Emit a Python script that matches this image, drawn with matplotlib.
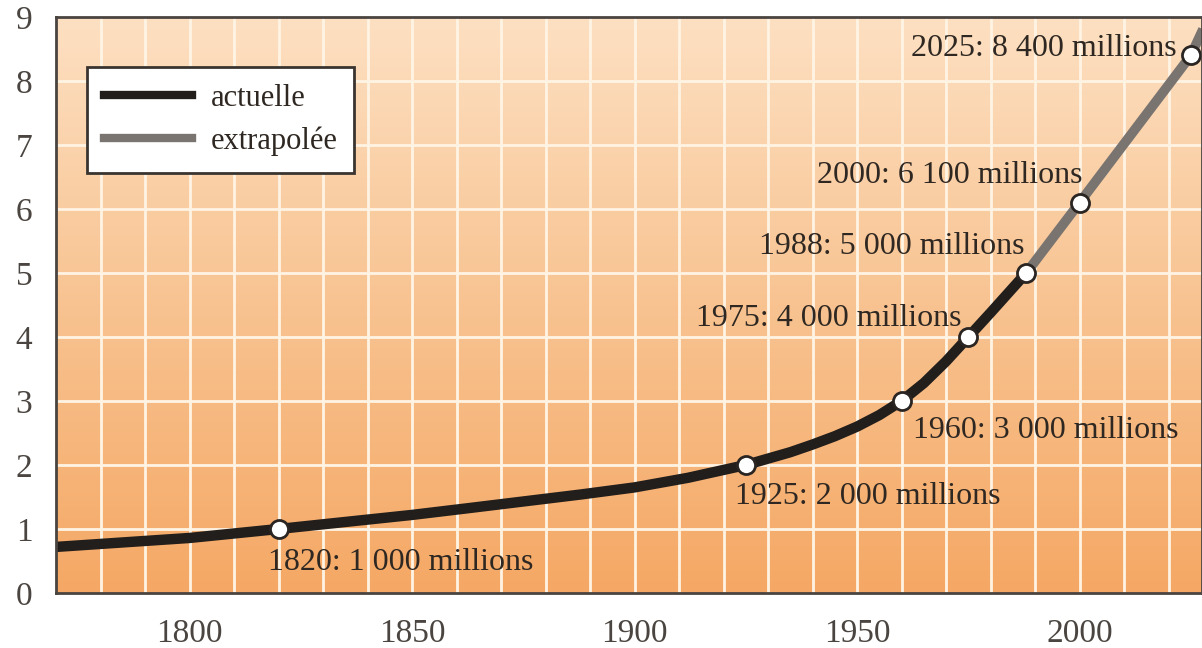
import matplotlib
matplotlib.use("Agg")
import matplotlib.pyplot as plt
import numpy as np
from matplotlib.colors import LinearSegmentedColormap
from matplotlib.lines import Line2D

# population mondiale (milliards)
years_actual = [1770, 1785, 1800, 1820, 1835, 1850, 1862, 1875, 1888, 1900,
                1912, 1925, 1935, 1940, 1945, 1950, 1955, 1960, 1965, 1970,
                1975, 1980, 1988]
pop_actual = [0.72, 0.79, 0.86, 1.0, 1.11, 1.22, 1.32, 1.43, 1.54, 1.65,
              1.8, 2.0, 2.2, 2.32, 2.45, 2.6, 2.78, 3.0, 3.28, 3.62,
              4.0, 4.38, 5.0]
years_extra = [1988, 2000, 2025, 2028]
pop_extra = [5.0, 6.1, 8.4, 8.85]

marker_years = [1820, 1925, 1960, 1975, 1988, 2000, 2025]
marker_pop = [1.0, 2.0, 3.0, 4.0, 5.0, 6.1, 8.4]
marker_labels = ["1820: 1 000 millions", "1925: 2 000 millions",
                 "1960: 3 000 millions", "1975: 4 000 millions",
                 "1988: 5 000 millions", "2000: 6 100 millions",
                 "2025: 8 400 millions"]
# offset (px) and alignment for each label
label_offsets = [(-11, -33, "left"), (-11, -31, "left"), (11, -30, "left"),
                 (-7, 18, "right"), (-2, 26, "right"), (3, 27, "right"),
                 (-14, 7, "right")]

plt.rcParams["font.family"] = ["Liberation Serif", "DejaVu Serif"]
text_color = "#2f2822"
black = "#221e1b"
grey = "#7a7470"

fig = plt.figure(figsize=(12.02, 6.48), dpi=100)
ax = fig.add_axes([56 / 1202, 55 / 648, 1146 / 1202, 576 / 648])

xmin, xmax, ymin, ymax = 1770, 2027.5, 0, 9

# background gradient
cmap = LinearSegmentedColormap.from_list("bg", ["#f5a865", "#f8c391", "#fde0c2"])
grad = np.linspace(0, 1, 256).reshape(-1, 1)
ax.imshow(grad, cmap=cmap, origin="lower", aspect="auto",
          extent=[xmin, xmax, ymin, ymax], zorder=0)

# grid
for yy in range(1, 9):
    ax.axhline(yy, color="#fff4e4", lw=2, zorder=1)
for xx in range(1780, 2030, 10):
    ax.axvline(xx, color="#fff4e4", lw=2, zorder=1)

ax.plot(years_extra, pop_extra, color=grey, lw=7, solid_capstyle="butt", zorder=3)
ax.plot(years_actual, pop_actual, color=black, lw=7.5, solid_capstyle="round",
        solid_joinstyle="round", zorder=4)
ax.plot(marker_years, marker_pop, "o", ms=13, mfc="white", mec="#2a2522",
        mew=2, zorder=5)

for yr, val, lab, (dx, dy, ha) in zip(marker_years, marker_pop, marker_labels,
                                      label_offsets):
    ax.annotate(lab, (yr, val), xytext=(dx, dy), textcoords="offset pixels",
                ha=ha, va="center", fontsize=23, color=text_color, zorder=6)

ax.set_xlim(xmin, xmax)
ax.set_ylim(ymin, ymax)
ax.set_xticks([1800, 1850, 1900, 1950, 2000])
ax.set_yticks(range(0, 10))
ax.tick_params(length=0, labelsize=24, labelcolor="#4a4540")
ax.tick_params(axis="x", pad=18)
ax.tick_params(axis="y", pad=17)
for sp in ax.spines.values():
    sp.set_color("#4a4440")
    sp.set_linewidth(2)
    sp.set_zorder(7)

handles = [Line2D([0], [0], color=black, lw=6),
           Line2D([0], [0], color=grey, lw=6)]
leg = ax.legend(handles, ["actuelle", "extrapolée"], loc="upper left",
                bbox_to_anchor=(0.027, 0.913), fontsize=22, frameon=True,
                fancybox=False, framealpha=1, edgecolor="#3a3430",
                handlelength=2.9, handletextpad=0.6, borderpad=0.55,
                labelspacing=0.45, borderaxespad=0)
leg.get_frame().set_linewidth(2)
for t in leg.get_texts():
    t.set_color(text_color)
leg.set_zorder(8)

fig.savefig("out.png", dpi=100)
